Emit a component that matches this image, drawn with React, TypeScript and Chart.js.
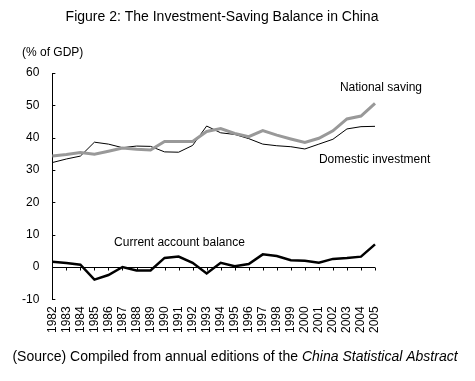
import React, { useEffect, useRef } from "react";
import { Chart, registerables } from "chart.js";

Chart.register(...registerables);

const years = ["1982","1983","1984","1985","1986","1987","1988","1989","1990","1991","1992","1993","1994","1995","1996","1997","1998","1999","2000","2001","2002","2003","2004","2005"];
const nationalSaving = [34.3, 34.8, 35.4, 34.9, 35.8, 36.8, 36.4, 36.2, 38.8, 38.8, 38.8, 41.9, 42.8, 41.3, 40.3, 42.2, 40.8, 39.6, 38.5, 39.8, 42.1, 45.8, 46.7, 50.6];
const domesticInvestment = [32.3, 33.4, 34.3, 38.6, 38.0, 36.9, 37.4, 37.3, 35.6, 35.5, 37.6, 43.6, 41.5, 41.0, 39.7, 38.0, 37.5, 37.2, 36.5, 38.0, 39.5, 42.7, 43.4, 43.5];
const currentAccount = [1.6, 1.2, 0.7, -3.9, -2.5, 0.0, -1.1, -1.1, 2.8, 3.2, 1.3, -2.0, 1.3, 0.2, 0.9, 3.9, 3.4, 2.1, 1.9, 1.3, 2.5, 2.8, 3.2, 7.0];
const yTicks = { min: -10, max: 60, step: 10 };

const titleText = "Figure 2: The Investment-Saving Balance in China";
const unitText = "(% of GDP)";
const sourcePlain = "(Source) Compiled from annual editions of the ";
const sourceItalic = "China Statistical Abstract";
const seriesLabels = [
  { text: "National saving", xIndex: 20.5, yValue: 55.4 },
  { text: "Domestic investment", xIndex: 19.0, yValue: 33.1 },
  { text: "Current account balance", xIndex: 4.4, yValue: 7.4 },
];

const FONT = "'Liberation Sans', Arial, sans-serif";

const decorPlugin = {
  id: "decor",
  afterDraw(chart: any) {
    const ctx = chart.ctx;
    const xs = chart.scales.x;
    const ys = chart.scales.y;
    const area = chart.chartArea;
    ctx.save();
    ctx.strokeStyle = "#000";
    ctx.lineWidth = 1;
    const y0 = Math.round(ys.getPixelForValue(0)) + 0.5;
    ctx.beginPath();
    ctx.moveTo(area.left, y0);
    ctx.lineTo(area.right, y0);
    for (let i = 0; i < years.length; i++) {
      const px = Math.round(xs.getPixelForValue(i)) + 0.5;
      ctx.moveTo(px, y0);
      ctx.lineTo(px, y0 + 3);
    }
    ctx.stroke();
    ctx.beginPath();
    for (let v = yTicks.min; v <= yTicks.max; v += yTicks.step) {
      const py = Math.round(ys.getPixelForValue(v)) + 0.5;
      ctx.moveTo(area.left, py);
      ctx.lineTo(area.left + 3, py);
    }
    ctx.stroke();
    ctx.fillStyle = "#000";
    ctx.font = `12px ${FONT}`;
    ctx.textBaseline = "middle";
    ctx.textAlign = "left";
    for (const l of seriesLabels) {
      ctx.fillText(l.text, xs.getPixelForValue(l.xIndex), ys.getPixelForValue(l.yValue));
    }
    ctx.font = `14px ${FONT}`;
    ctx.textAlign = "center";
    ctx.fillText(titleText, 222, 17);
    ctx.font = `12px ${FONT}`;
    ctx.textAlign = "left";
    ctx.fillText(unitText, 22, 53);
    ctx.font = `14px ${FONT}`;
    const w1 = ctx.measureText(sourcePlain).width;
    ctx.font = `italic 14px ${FONT}`;
    const w2 = ctx.measureText(sourceItalic).width;
    const startX = 235 - (w1 + w2) / 2;
    ctx.font = `14px ${FONT}`;
    ctx.fillText(sourcePlain, startX, 357);
    ctx.font = `italic 14px ${FONT}`;
    ctx.fillText(sourceItalic, startX + w1, 357);
    ctx.restore();
  },
};

export default function App() {
  const ref = useRef<HTMLCanvasElement>(null);
  useEffect(() => {
    if (!ref.current) return;
    const chart = new Chart(ref.current, {
      type: "line",
      data: {
        labels: years,
        datasets: [
          { label: "National saving", data: nationalSaving, borderColor: "#999999", borderWidth: 3, pointRadius: 0, tension: 0, fill: false },
          { label: "Domestic investment", data: domesticInvestment, borderColor: "#000000", borderWidth: 1, pointRadius: 0, tension: 0, fill: false },
          { label: "Current account balance", data: currentAccount, borderColor: "#000000", borderWidth: 2.5, pointRadius: 0, tension: 0, fill: false },
        ],
      },
      options: {
        animation: false,
        responsive: false,
        layout: { padding: { left: 9, right: 100, top: 73, bottom: 41 } },
        plugins: { legend: { display: false }, tooltip: { enabled: false }, title: { display: false } },
        scales: {
          x: {
            type: "category",
            offset: false,
            grid: { display: false, drawTicks: false },
            border: { display: false },
            ticks: { autoSkip: false, minRotation: 90, maxRotation: 90, padding: 7, color: "#000", font: { family: FONT, size: 12 } },
          },
          y: {
            min: yTicks.min,
            max: yTicks.max,
            grid: { display: true, drawOnChartArea: false, drawTicks: false },
            border: { display: true, color: "#000", width: 1 },
            ticks: { stepSize: yTicks.step, padding: 13, color: "#000", font: { family: FONT, size: 12 } },
          },
        },
      },
      plugins: [decorPlugin],
    });
    return () => chart.destroy();
  }, []);
  return (
    <div style={{ position: "fixed", left: 0, top: 0, width: 475, height: 381, background: "#fff" }}>
      <canvas ref={ref} width={475} height={381} style={{ width: 475, height: 381 }} />
    </div>
  );
}
